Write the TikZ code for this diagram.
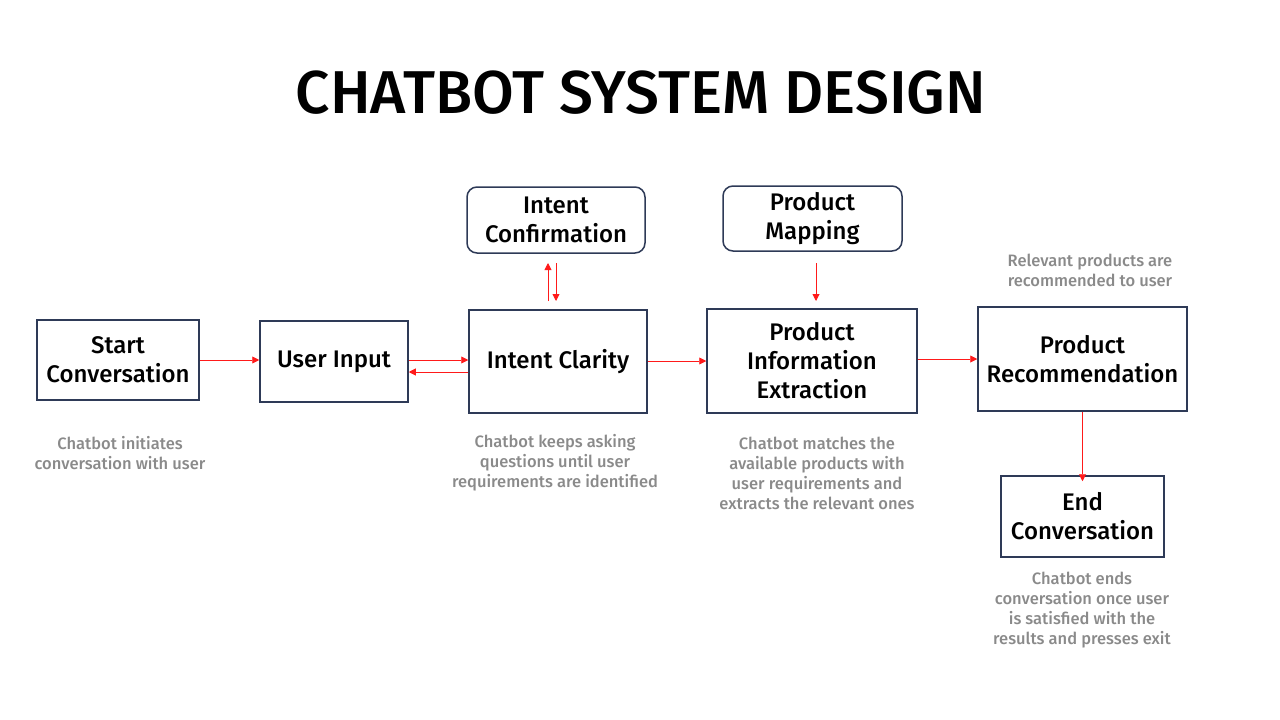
\documentclass[tikz,border=0pt]{standalone}
\usepackage{fontspec}
\setmainfont{Fira Sans}
\newfontfamily\medfont{Fira Sans Medium}
\usetikzlibrary{arrows.meta}
\definecolor{boxline}{HTML}{2E3A57}
\definecolor{desc}{HTML}{8A8A8A}
\definecolor{arr}{HTML}{FF1A1A}
\tikzset{
  box/.style={draw=boxline, line width=1.5pt, inner sep=0pt, align=center,
    font=\medfont\fontsize{24}{29}\selectfont},
  rbox/.style={box, rounded corners=10pt},
  descr/.style={text=desc, align=center, font=\medfont\fontsize{16.5}{20}\selectfont, inner sep=0pt},
  link/.style={draw=arr, line width=0.9pt, -{Triangle[length=7pt,width=7pt]}}
}
\begin{document}
\begin{tikzpicture}[x=1pt,y=-1pt]
\useasboundingbox (0,0) rectangle (1280,720);
\node[font=\medfont\fontsize{60.5}{61}\selectfont] (title) at (641,93) {CHATBOT SYSTEM DESIGN};

\node[box, minimum width=162pt, minimum height=80pt] (start) at (118,360) {Start\\Conversation};
\node[box, minimum width=148pt, minimum height=81pt] (input) at (334,361.5) {User Input};
\node[box, minimum width=178pt, minimum height=103pt] (clar) at (558,361.5) {Intent Clarity};
\node[rbox, minimum width=178pt, minimum height=66pt] (conf) at (556,220) {Intent\\Confirmation};
\node[rbox, minimum width=179pt, minimum height=65pt] (map) at (812.5,218.5) {Product\\Mapping};
\node[box, minimum width=210pt, minimum height=104pt] (pie) at (812,361) {Product\\Information\\Extraction};
\node[box, minimum width=209pt, minimum height=104pt] (rec) at (1082.5,359) {Product\\Recommendation};
\node[box, minimum width=163pt, minimum height=81pt] (end) at (1082.5,516.5) {End\\Conversation};

\node[descr] (d1) at (120,453) {Chatbot initiates\\conversation with user};
\node[descr] (d2) at (555,463) {Chatbot keeps asking\\questions until user\\requirements are identified};
\node[descr] (d3) at (817,473) {Chatbot matches the\\available products with\\user requirements and\\extracts the relevant ones};
\node[descr] (d4) at (1090,270) {Relevant products are\\recommended to user};
\node[descr] (d5) at (1082,610) {Chatbot ends\\conversation once user\\is satisfied with the\\results and presses exit};

\coordinate (c1a) at (548,301);
\coordinate (c1b) at (548,263);
\coordinate (c2a) at (556,263);
\coordinate (c2b) at (556,301);
\coordinate (m1) at (816,263);
\coordinate (m2) at (816,301);

\draw[link] (start.east |- 0,360) -- (input.west |- 0,360);
\draw[link] (input.east |- 0,360) -- (clar.west |- 0,360);
\draw[link] (clar.west |- 0,372) -- (input.east |- 0,372);
\draw[link] (c1a) -- (c1b);
\draw[link] (c2a) -- (c2b);
\draw[link] (clar.east |- 0,361) -- (pie.west |- 0,361);
\draw[link] (m1) -- (m2);
\draw[link] (pie.east |- 0,359) -- (rec.west |- 0,359);
\draw[link] (rec.south) -- ([yshift=-6pt]end.north);
\end{tikzpicture}
\end{document}
